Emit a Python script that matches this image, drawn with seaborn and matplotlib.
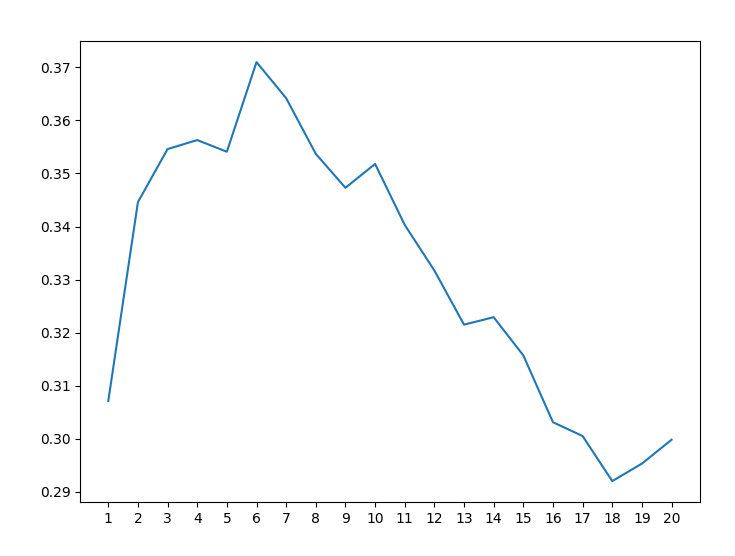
import matplotlib
matplotlib.use("Agg")
import matplotlib.pyplot as plt
import seaborn as sns
import pandas as pd

# values
steps = list(range(1, 21))
scores = [0.3071, 0.3446, 0.3546, 0.3563, 0.3541, 0.3710, 0.3642, 0.3537, 0.3473, 0.3518,
          0.3403, 0.3317, 0.3215, 0.3229, 0.3157, 0.3031, 0.3005, 0.2920, 0.2953, 0.2998]

df = pd.DataFrame({"step": steps, "score": scores})

fig, ax = plt.subplots(figsize=(7.35, 5.56), dpi=100)
fig.subplots_adjust(left=0.109, right=0.952, top=0.926, bottom=0.097)

sns.lineplot(data=df, x="step", y="score", color="tab:blue", ax=ax)
ax.set_xticks(steps)
ax.set_xlabel("")
ax.set_ylabel("")

fig.savefig("out.png", dpi=100)
